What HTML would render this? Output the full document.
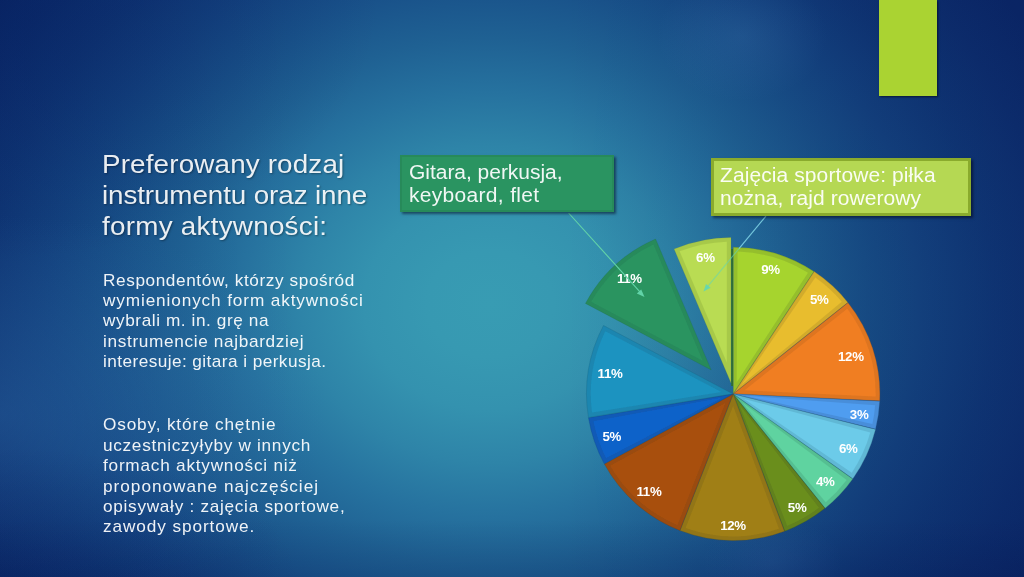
<!DOCTYPE html>
<html lang="pl">
<head>
<meta charset="utf-8">
<title>Preferowany rodzaj instrumentu oraz inne formy aktywności</title>
<style>
html,body{margin:0;padding:0;}
body{width:1024px;height:577px;overflow:hidden;position:relative;background:#0b2f6e;font-family:"Liberation Sans",sans-serif;color:#fff;}
#bg{position:absolute;left:0;top:0;width:1024px;height:577px;
 background:
  linear-gradient(180deg, rgba(0,15,70,0) 90%, rgba(0,15,70,0.15) 100%),
  radial-gradient(ellipse 380px 260px at 0px 0px, rgba(4,28,92,0.38) 0%, rgba(4,28,92,0.18) 55%, rgba(4,28,92,0) 100%),
  radial-gradient(ellipse 300px 130px at 0px 577px, rgba(4,28,92,0.30) 0%, rgba(4,28,92,0.14) 55%, rgba(4,28,92,0) 100%),
  radial-gradient(ellipse 330px 200px at 0px 415px, rgba(50,115,175,0.36) 0%, rgba(50,115,175,0.18) 50%, rgba(50,115,175,0) 100%),
  linear-gradient(90deg, rgba(0,10,70,0.06) 0%, rgba(0,10,70,0) 30%, rgba(0,10,70,0) 55%, rgba(0,10,70,0.12) 85%, rgba(0,10,70,0.10) 100%),
  radial-gradient(ellipse 70px 45px at 772px 562px, rgba(70,125,190,0.18) 0%, rgba(70,125,190,0.08) 55%, rgba(70,125,190,0) 100%),
  radial-gradient(ellipse 85px 65px at 742px 36px, rgba(70,135,190,0.22) 0%, rgba(70,135,190,0.10) 55%, rgba(70,135,190,0) 100%),
  radial-gradient(ellipse 630px 530px at 490px 304px, rgb(56,156,179) 0%, rgb(55,153,178) 10%, rgb(52,146,175) 20%, rgb(46,132,168) 30%, rgb(38,114,159) 40%, rgb(31,97,147) 50%, rgb(25,82,138) 60%, rgb(20,68,129) 70%, rgb(16,56,119) 80%, rgb(13,47,111) 90%, rgb(11,40,104) 100%);
 background-color:rgb(10,38,102);}
#tab{position:absolute;left:879px;top:0;width:58px;height:96px;background:#aad332;box-shadow:1px 1px 2px rgba(0,0,10,.6);}
h1,p{margin:0;font-weight:normal;}
span{position:absolute;white-space:nowrap;display:block;color:rgba(255,255,255,.93);transform:scaleX(1.05);transform-origin:0 50%;}
.t{font-size:26.5px;line-height:32px;text-shadow:1px 1px 2px rgba(0,0,0,.35);color:rgba(255,255,255,.91);}
.b{font-size:16.4px;line-height:20px;}
.c{font-size:20px;line-height:24px;}
.box{position:absolute;box-sizing:border-box;box-shadow:1.5px 1.5px 2.5px rgba(0,0,20,.5);}
#b1{left:400px;top:155px;width:213.5px;height:57px;background:#2a9461;border:2px solid #278a5a;}
#b2{left:711px;top:158px;width:259.7px;height:58px;background:#b5d853;border:3px solid #8aab2d;}
svg{position:absolute;left:0;top:0;}
svg text{font-family:"Liberation Sans",sans-serif;font-weight:bold;font-size:13.3px;fill:#fff;text-anchor:middle;letter-spacing:-0.3px;}
</style>
</head>
<body>
<div id="bg"></div>
<div id="tab"></div>
<h1>
<span class="t" style="left:101.9px;top:148.22px;letter-spacing:0.140px">Preferowany rodzaj</span>
<span class="t" style="left:101.9px;top:179.32px;letter-spacing:-0.107px">instrumentu oraz inne</span>
<span class="t" style="left:101.9px;top:210.42px;letter-spacing:0.238px">formy aktywności:</span>
</h1>
<p>
<span class="b" style="left:102.7px;top:269.52px;letter-spacing:0.564px">Respondentów, którzy spośród</span>
<span class="b" style="left:102.7px;top:290.02px;letter-spacing:0.829px">wymienionych form aktywności</span>
<span class="b" style="left:102.7px;top:310.42px;letter-spacing:0.548px">wybrali m. in. grę na</span>
<span class="b" style="left:102.7px;top:330.92px;letter-spacing:0.621px">instrumencie najbardziej</span>
<span class="b" style="left:102.7px;top:351.32px;letter-spacing:0.411px">interesuje: gitara i perkusja.</span>
</p>
<p>
<span class="b" style="left:102.7px;top:414.12px;letter-spacing:0.802px">Osoby, które chętnie</span>
<span class="b" style="left:102.7px;top:434.62px;letter-spacing:0.663px">uczestniczyłyby w innych</span>
<span class="b" style="left:102.7px;top:455.12px;letter-spacing:0.726px">formach aktywności niż</span>
<span class="b" style="left:102.7px;top:475.62px;letter-spacing:0.942px">proponowane najczęściej</span>
<span class="b" style="left:102.7px;top:495.82px;letter-spacing:0.672px">opisywały : zajęcia sportowe,</span>
<span class="b" style="left:102.7px;top:516.32px;letter-spacing:0.857px">zawody sportowe.</span>
</p>
<svg width="1024" height="577" viewBox="0 0 1024 577">
<defs><filter id="soft" x="-5%" y="-5%" width="110%" height="110%"><feGaussianBlur stdDeviation="0.7"/></filter></defs>
<g id="pie">
<line x1="732.1" y1="249" x2="732.1" y2="386" stroke="#2f6f2a" stroke-width="1.8" stroke-opacity="0.9"/>
<g>
<path d="M733.35,393.40L733.35,247.25A146.65,146.65 0 0 1 813.91,271.46Z" fill="#95bf2c" stroke="#6b891f" stroke-opacity="0.3" stroke-width="0.9" stroke-linejoin="round"/>
<path d="M733.85,393.19L814.16,271.62A146.65,146.65 0 0 1 847.81,302.41Z" fill="#d2ab2b" stroke="#977b1e" stroke-opacity="0.3" stroke-width="0.9" stroke-linejoin="round"/>
<path d="M733.60,393.77L848.00,302.65A146.65,146.65 0 0 1 879.69,400.84Z" fill="#de7520" stroke="#9f5417" stroke-opacity="0.3" stroke-width="0.9" stroke-linejoin="round"/>
<path d="M734.72,394.12L879.67,401.14A146.65,146.65 0 0 1 875.56,429.11Z" fill="#488eda" stroke="#33669c" stroke-opacity="0.3" stroke-width="0.9" stroke-linejoin="round"/>
<path d="M733.93,394.24L875.49,429.40A146.65,146.65 0 0 1 852.83,478.73Z" fill="#60b8d5" stroke="#458499" stroke-opacity="0.3" stroke-width="0.9" stroke-linejoin="round"/>
<path d="M733.99,394.65L852.65,478.97A146.65,146.65 0 0 1 825.11,508.18Z" fill="#55bf91" stroke="#3d8968" stroke-opacity="0.3" stroke-width="0.9" stroke-linejoin="round"/>
<path d="M733.67,394.72L824.87,508.36A146.65,146.65 0 0 1 784.77,531.18Z" fill="#61811d" stroke="#455c14" stroke-opacity="0.3" stroke-width="0.9" stroke-linejoin="round"/>
<path d="M733.20,394.32L784.49,531.29A146.65,146.65 0 0 1 680.07,530.59Z" fill="#927517" stroke="#695410" stroke-opacity="0.3" stroke-width="0.9" stroke-linejoin="round"/>
<path d="M732.91,394.23L679.79,530.48A146.65,146.65 0 0 1 604.44,464.10Z" fill="#9a4b10" stroke="#6e360b" stroke-opacity="0.3" stroke-width="0.9" stroke-linejoin="round"/>
<path d="M732.35,394.19L604.30,463.83A146.65,146.65 0 0 1 588.50,417.75Z" fill="#115ab6" stroke="#0c4083" stroke-opacity="0.3" stroke-width="0.9" stroke-linejoin="round"/>
<path d="M732.74,393.82L588.45,417.45A146.65,146.65 0 0 1 603.49,325.48Z" fill="#1c86b0" stroke="#14607e" stroke-opacity="0.3" stroke-width="0.9" stroke-linejoin="round"/>
<path d="M711.16,369.90L585.44,303.42A145.60,145.60 0 0 1 655.59,238.99Z" fill="#278a5b" stroke="#1c6341" stroke-opacity="0.2" stroke-width="0.9" stroke-linejoin="round"/>
<path d="M731.01,383.12L674.11,249.08A146.60,146.60 0 0 1 731.01,237.50Z" fill="#a7c949" stroke="#789034" stroke-opacity="0.2" stroke-width="0.9" stroke-linejoin="round"/>
</g>
<g filter="url(#soft)">
<path d="M736.65,382.41L737.60,251.57A142.40,142.40 0 0 1 807.98,272.72Z" fill="#a6d42f"/>
<path d="M741.30,385.05L815.33,277.57A142.40,142.40 0 0 1 841.79,301.78Z" fill="#e8bd2e"/>
<path d="M744.62,390.21L847.27,308.66A142.40,142.40 0 0 1 875.58,396.38Z" fill="#f07e24"/>
<path d="M745.07,395.64L875.15,405.17A142.40,142.40 0 0 1 872.39,423.94Z" fill="#4f9df0"/>
<path d="M744.10,398.91L870.27,432.48A142.40,142.40 0 0 1 851.77,472.76Z" fill="#6ccbe9"/>
<path d="M741.93,402.13L846.67,479.94A142.40,142.40 0 0 1 825.72,502.15Z" fill="#5fd3a0"/>
<path d="M739.13,404.33L818.86,507.66A142.40,142.40 0 0 1 787.24,525.65Z" fill="#6b8e1e"/>
<path d="M733.12,405.90L778.99,528.74A142.40,142.40 0 0 1 685.60,528.11Z" fill="#a07f15"/>
<path d="M725.27,402.90L677.40,524.91A142.40,142.40 0 0 1 610.27,465.77Z" fill="#a8500e"/>
<path d="M721.85,397.79L606.06,458.04A142.40,142.40 0 0 1 593.45,421.24Z" fill="#0f62c9"/>
<path d="M721.36,391.96L592.03,412.56A142.40,142.40 0 0 1 605.32,331.25Z" fill="#1b93c0"/>
<path d="M702.68,360.66L591.20,301.72A141.40,141.40 0 0 1 653.40,244.59Z" fill="#2a9461"/>
<path d="M726.81,362.47L679.64,251.36A142.40,142.40 0 0 1 726.81,241.77Z" fill="#b9dc52"/>
</g>
</g>

<g id="labels">
<text x="770.5" y="273.9">9%</text>
<text x="819.3" y="304.4">5%</text>
<text x="850.8" y="360.9">12%</text>
<text x="859.1" y="419.2">3%</text>
<text x="848.2" y="452.8">6%</text>
<text x="825.3" y="486.0">4%</text>
<text x="797.1" y="511.9">5%</text>
<text x="733.0" y="530.1">12%</text>
<text x="649.0" y="495.9">11%</text>
<text x="611.8" y="441.1">5%</text>
<text x="610.1" y="378.1">11%</text>
<text x="629.4" y="283.2">11%</text>
<text x="705.4" y="262.3">6%</text>
</g>
<g id="lines" fill="none">
<line x1="568.6" y1="213" x2="641.5" y2="293.6" stroke="#62d3a8" stroke-width="1.1"/>
<path d="M644.5,297 L636.8,293.4 L641.2,289.4 Z" fill="#62d3a8"/>
<line x1="766" y1="216" x2="739" y2="248.6" stroke="#74c6dc" stroke-width="1.2"/>
<line x1="739" y1="248.6" x2="706.3" y2="288.1" stroke="#62d6b4" stroke-opacity="0.6" stroke-width="1.1"/>
<path d="M703.5,291.5 L706.0,284.0 L710.6,287.8 Z" fill="#62d6b4" fill-opacity="0.9"/>
</g>
</svg>
<div class="box" id="b1">
<span class="c" style="left:7.3px;top:3.07px;letter-spacing:-0.030px">Gitara, perkusja,</span>
<span class="c" style="left:7.3px;top:26.07px;letter-spacing:0.293px">keyboard, flet</span>
</div>
<div class="box" id="b2">
<span class="c" style="left:5.9px;top:1.57px;letter-spacing:0.087px">Zajęcia sportowe: piłka</span>
<span class="c" style="left:5.9px;top:24.87px;letter-spacing:0.075px">nożna, rajd rowerowy</span>
</div>
</body>
</html>
